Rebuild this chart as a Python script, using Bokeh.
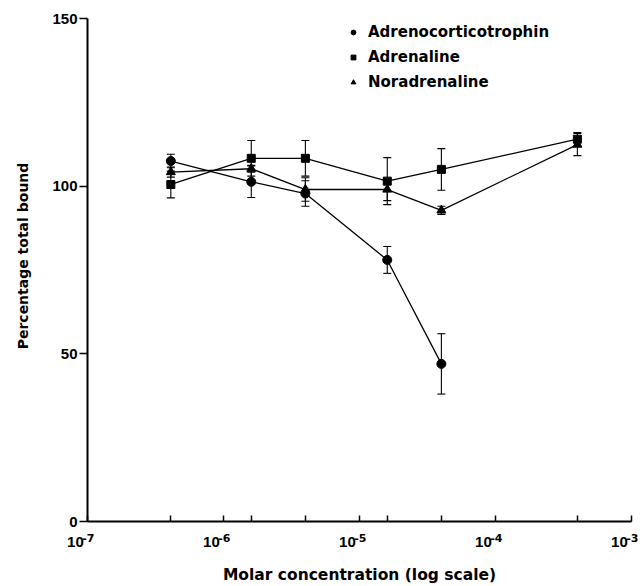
from bokeh.plotting import figure
from bokeh.models import (ColumnDataSource, Whisker, TeeHead, FixedTicker, LogAxis,
                          Legend, LegendItem, Range1d, CustomJSTickFormatter)
from bokeh.embed import file_html
from bokeh.resources import INLINE

# ---- data ----
conc = [4.1e-7, 1.6e-6, 4.0e-6, 1.6e-5, 4.0e-5, 4.0e-4]
acth = [107.5, 101.3, 97.8, 78.0, 47.0]
acth_err = [2.0, 4.7, 3.8, 4.0, 9.0]
adrenaline = [100.5, 108.3, 108.3, 101.5, 105.0, 114.0]
adrenaline_err = [4.0, 5.3, 5.3, 7.0, 6.2, 2.0]
noradrenaline = [104.2, 105.2, 99.0, 99.0, 92.8, 112.4]
noradrenaline_err = [1.5, 1.0, 3.5, 3.3, 1.2, 3.3]

decades = [1e-7, 1e-6, 1e-5, 1e-4, 1e-3]
decade_base = ["10", "10", "10", "10", "10"]
decade_exp = ["-7", "-6", "-5", "-4", "-3"]
y_ticks = [0, 50, 100, 150]

TICK_FONT = "Liberation Sans"
TEXT_FONT = "DejaVu Sans"

p = figure(width=640, height=586, x_axis_type="log",
           x_range=Range1d(1e-7, 1e-3), y_range=Range1d(0, 150),
           min_border_left=87, min_border_right=9, min_border_top=18,
           min_border_bottom=65, output_backend="svg", toolbar_location=None)
p.outline_line_color = None
p.xgrid.visible = False
p.ygrid.visible = False
p.background_fill_color = "white"
p.border_fill_color = "white"


def series(xs, ys, errs, marker, size):
    src = ColumnDataSource(dict(x=xs, y=ys,
                                upper=[a + b for a, b in zip(ys, errs)],
                                lower=[a - b for a, b in zip(ys, errs)]))
    w = Whisker(source=src, base="x", upper="upper", lower="lower", dimension="height",
                line_color="black", line_width=1.1,
                upper_head=TeeHead(size=8, line_color="black", line_width=1.1),
                lower_head=TeeHead(size=8, line_color="black", line_width=1.1))
    p.add_layout(w)
    p.line("x", "y", source=src, line_color="black", line_width=1.3)
    r = p.scatter("x", "y", source=src, marker=marker, size=size,
                  fill_color="black", line_color="black")
    return r


r1 = series(conc[:len(acth)], acth, acth_err, "circle", 9)
r2 = series(conc, adrenaline, adrenaline_err, "square", 8)
r3 = series(conc, noradrenaline, noradrenaline_err, "triangle", 9)

legend = Legend(items=[LegendItem(label="Adrenocorticotrophin", renderers=[r1]),
                       LegendItem(label="Adrenaline", renderers=[r2]),
                       LegendItem(label="Noradrenaline", renderers=[r3])],
                location=(260, 429), padding=0, margin=0, spacing=5,
                glyph_width=12, glyph_height=12, label_standoff=9, label_height=20,
                border_line_color=None, background_fill_alpha=0,
                label_text_font=TEXT_FONT, label_text_font_style="bold",
                label_text_font_size="15px", label_text_color="black")
p.add_layout(legend)

# ---- y axis ----
ya = p.yaxis[0]
ya.ticker = FixedTicker(ticks=y_ticks, minor_ticks=[])
ya.axis_line_width = 2
ya.major_tick_out = 8
ya.major_tick_in = 0
ya.major_tick_line_width = 1.5
ya.minor_tick_line_color = None
ya.major_label_standoff = 2
ya.major_label_text_font = TICK_FONT
ya.major_label_text_font_style = "bold"
ya.major_label_text_font_size = "15px"
ya.major_label_text_color = "black"
ya.axis_label = "\u2003\u2003Percentage total bound"
ya.axis_label_text_font = TEXT_FONT
ya.axis_label_text_font_style = "bold"
ya.axis_label_text_font_size = "14px"
ya.axis_label_text_color = "black"
ya.axis_label_standoff = 18


def decade_formatter(labels):
    return CustomJSTickFormatter(args=dict(decs=decades, labs=labels), code="""
        for (let i = 0; i < decs.length; i++) {
            if (Math.abs(Math.log10(decs[i]) - Math.log10(tick)) < 1e-6) { return labs[i]; }
        }
        return '';
    """)


# ---- x axis (line, ticks and exponents) ----
xa = p.xaxis[0]
xa.ticker = FixedTicker(ticks=decades + conc, minor_ticks=[])
xa.formatter = decade_formatter(["\u2006" + e for e in decade_exp])
xa.axis_line_width = 2
xa.major_tick_in = 6
xa.major_tick_out = 0
xa.major_tick_line_width = 1.5
xa.minor_tick_line_color = None
xa.major_label_standoff = 10
xa.major_label_text_font = TEXT_FONT
xa.major_label_text_font_style = "bold"
xa.major_label_text_font_size = "11px"
xa.major_label_text_color = "black"

# ---- second x axis row: the "10" of each decade label, and the title ----
xb = LogAxis(ticker=FixedTicker(ticks=decades, minor_ticks=[]),
             formatter=decade_formatter([b + "\u2005" for b in decade_base]))
xb.axis_line_color = None
xb.major_tick_line_color = None
xb.minor_tick_line_color = None
xb.major_tick_in = 0
xb.major_tick_out = 0
xb.major_label_orientation = 0.0001
xb.major_label_standoff = -6
xb.major_label_text_font = TICK_FONT
xb.major_label_text_font_style = "bold"
xb.major_label_text_font_size = "15px"
xb.major_label_text_color = "black"
xb.axis_label = "Molar concentration (log scale)"
xb.axis_label_text_font = TEXT_FONT
xb.axis_label_text_font_style = "bold"
xb.axis_label_text_font_size = "15.5px"
xb.axis_label_text_color = "black"
xb.axis_label_standoff = 4
p.add_layout(xb, "below")

open("out.html", "w").write(file_html(p, INLINE))
